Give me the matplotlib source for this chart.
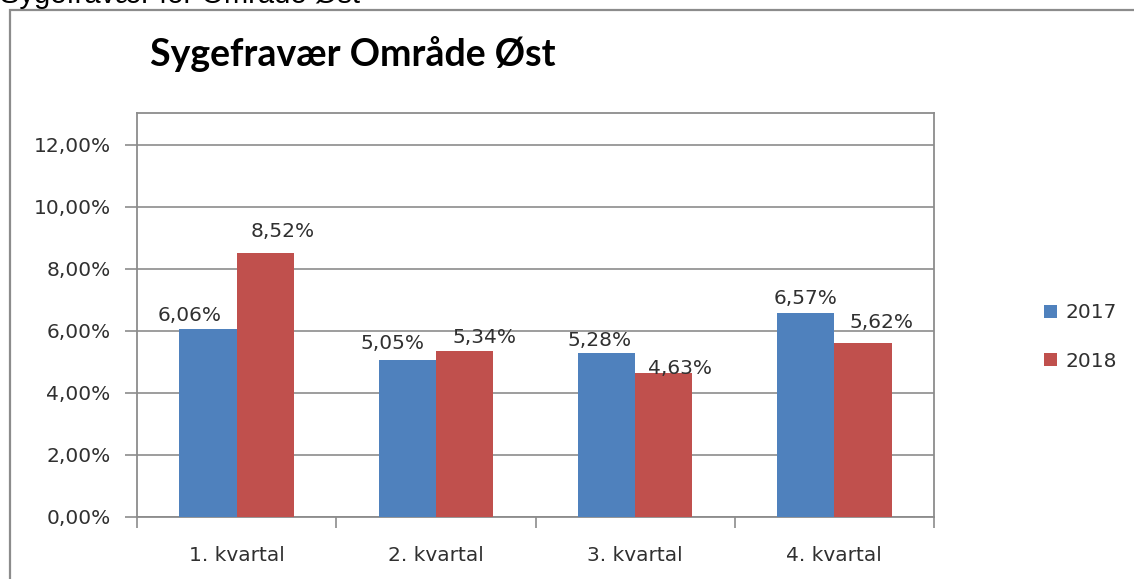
import matplotlib
matplotlib.use("Agg")
import matplotlib.pyplot as plt
from matplotlib.patches import Rectangle
import numpy as np

categories = ["1. kvartal", "2. kvartal", "3. kvartal", "4. kvartal"]
series_names = ["2017", "2018"]
values_2017 = [0.0606, 0.0505, 0.0528, 0.0657]
values_2018 = [0.0852, 0.0534, 0.0463, 0.0562]
y_ticks = [0.0, 0.02, 0.04, 0.06, 0.08, 0.10, 0.12]

# label placement tweaks (pixels): horizontal shift, height above bar top
dx_2017 = [-18, -15, -7, 0]
dy_2017 = [14, 17, 13, 15]
dx_2018 = [17, 20, 16, 19]
dy_2018 = [21, 14, 5, 20]

W, H = 1134, 579
DPI = 100
fig = plt.figure(figsize=(W / DPI, H / DPI), dpi=DPI)
fig.patch.set_facecolor("white")

def fx(px):
    return px / W

def fy(py):
    return 1 - py / H

# outer chart border
fig.patches.append(Rectangle((fx(10), fy(620)), fx(1200), (620 - 10) / H,
                             transform=fig.transFigure, fill=False,
                             edgecolor="#8c8c8c", linewidth=1.6, zorder=0))

# text cut off at top
fig.text(fx(0), fy(3), "Sygefravær for Område Øst", fontsize=21,
         family="Liberation Sans", color="black", va="baseline", ha="left")

# chart title
fig.text(fx(150), fy(66), "Sygefravær Område Øst", fontsize=27,
         family="Lato", fontweight="bold", color="black",
         va="baseline", ha="left")

ax = fig.add_axes([fx(137), fy(517), fx(934) - fx(137), (517 - 113) / H])

x = np.arange(len(categories))
bw = 0.287
blue = "#4F81BD"
red = "#C0504D"
b1 = ax.bar(x - bw / 2, values_2017, bw, color=blue, label=series_names[0], zorder=3)
b2 = ax.bar(x + bw / 2, values_2018, bw, color=red, label=series_names[1], zorder=3)

def fmt(v):
    return f"{v*100:.2f}%".replace(".", ",")

for xi, v, dx, dy in zip(x - bw / 2, values_2017, dx_2017, dy_2017):
    ax.annotate(fmt(v), (xi, v), xytext=(dx, dy), textcoords="offset pixels",
                ha="center", va="center", fontsize=14.5, color="#303030",
                family="DejaVu Sans", zorder=5)
for xi, v, dx, dy in zip(x + bw / 2, values_2018, dx_2018, dy_2018):
    ax.annotate(fmt(v), (xi, v), xytext=(dx, dy), textcoords="offset pixels",
                ha="center", va="center", fontsize=14.5, color="#303030",
                family="DejaVu Sans", zorder=5)

ax.set_xlim(-0.5, len(categories) - 0.5)
ax.set_ylim(0, 0.1303)
ax.set_yticks(y_ticks)
ax.set_yticklabels([f"{t*100:.2f}%".replace(".", ",") for t in y_ticks])
ax.yaxis.grid(True, color="#8c8c8c", linewidth=1.2, zorder=0)
ax.set_axisbelow(True)

ax.set_xticks(x)
ax.set_xticklabels(categories)
ax.set_xticks(np.arange(-0.5, len(categories)), minor=True)
ax.tick_params(axis="x", which="major", length=0, pad=21, labelsize=14.5,
               labelcolor="#303030")
ax.tick_params(axis="x", which="minor", length=8, width=1.2, color="#8c8c8c",
               direction="out")
ax.tick_params(axis="y", which="major", length=9, width=1.2, color="#8c8c8c",
               direction="out", pad=10, labelsize=14.5, labelcolor="#303030")
for s in ax.spines.values():
    s.set_color("#8c8c8c")
    s.set_linewidth(1.3)

fig.legend(handles=[b1, b2], labels=series_names, loc="center left",
           bbox_to_anchor=(fx(1026), fy(337)), frameon=False,
           handlelength=0.65, handleheight=0.65, handletextpad=0.4,
           labelspacing=1.45, fontsize=14.5, labelcolor="#303030")

fig.savefig("out.png", dpi=DPI, facecolor="white")
